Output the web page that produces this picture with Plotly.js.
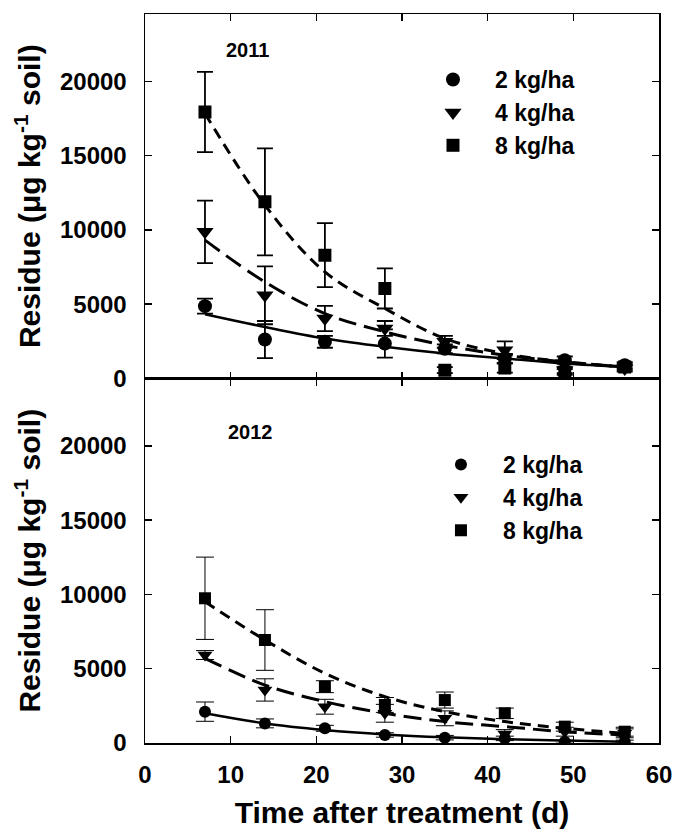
<!DOCTYPE html>
<html>
<head>
<meta charset="utf-8">
<script src="https://cdn.plot.ly/plotly-3.0.1.min.js"></script>
<style>html,body{margin:0;padding:0;background:#fff;}#chart{width:681px;height:832px;}</style>
</head>
<body>
<div id="chart"></div>
<script>
// Sampling days
const days = [7, 14, 21, 28, 35, 42, 49, 56];
const legendLabels = ["2 kg/ha", "4 kg/ha", "8 kg/ha"];

// 2011 observed means and standard errors
const y2011_2kg = [4870, 2620, 2470, 2350, 2000, 1350, 1230, 900];
const e2011_2kg = [500, 1250, 400, 950, 300, 300, 250, 200];
const y2011_4kg = [9870, 5600, 4040, 3370, 2470, 1900, 560, 670];
const e2011_4kg = [2100, 1950, 850, 500, 400, 600, 200, 200];
const y2011_8kg = [17940, 11890, 8300, 6060, 560, 700, 440, 780];
const e2011_8kg = [2700, 3600, 2150, 1350, 200, 300, 200, 200];

// 2011 fitted curves
const f2011_2kg = [4330, 3470, 2690, 2130, 1680, 1350, 1010, 780];
const f2011_4kg = [9310, 6500, 4370, 3140, 2240, 1570, 1120, 780];
const f2011_8kg = [17840, 11660, 7170, 4710, 2690, 1680, 1120, 780];

// 2012 observed means and standard errors
const y2012_2kg = [2110, 1320, 990, 540, 360, 310, 90, 90];
const e2012_2kg = [650, 300, 200, 150, 150, 150, 100, 100];
const y2012_4kg = [5920, 3570, 2440, 2000, 1660, 600, 760, 650];
const e2012_4kg = [300, 750, 500, 600, 500, 300, 300, 300];
const y2012_8kg = [9740, 6930, 3790, 2560, 2890, 2000, 1100, 760];
const e2012_8kg = [2770, 2040, 400, 500, 540, 350, 300, 300];

// 2012 fitted curves
const f2012_2kg = [2000, 1320, 880, 580, 380, 250, 160, 90];
const f2012_4kg = [5700, 3900, 2780, 2000, 1440, 1100, 760, 540];
const f2012_8kg = [9510, 6930, 4690, 3120, 2110, 1440, 990, 650];

const symbols = ["circle", "triangle-down", "square"];
const dashes = ["solid", "18px,8px", "11px,7px"];
const FONT = "Liberation Sans, Arial, sans-serif";

function obs(y, e, i, xa, ya, leg, msize, ethick, ewidth) {
  return {
    x: days, y: y, type: "scatter", mode: "markers", name: legendLabels[i],
    xaxis: xa, yaxis: ya, legend: leg,
    marker: {symbol: symbols[i], color: "black", size: msize[i]},
    error_y: {type: "data", array: e, visible: true, color: "black", thickness: ethick, width: ewidth}
  };
}
function fit(y, i, xa, ya, w) {
  return {
    x: days, y: y, type: "scatter", mode: "lines", showlegend: false,
    xaxis: xa, yaxis: ya, hoverinfo: "skip",
    line: {color: "black", width: w, dash: dashes[i], shape: "spline", smoothing: 1.0}
  };
}

const topSize = [14, 15, 13];
const botSize = [12, 13, 12];
const traces = [
  fit(f2011_2kg, 0, "x2", "y2", 2.5), fit(f2011_4kg, 1, "x2", "y2", 3), fit(f2011_8kg, 2, "x2", "y2", 3),
  obs(y2011_2kg, e2011_2kg, 0, "x2", "y2", "legend", topSize, 1.8, 8),
  obs(y2011_4kg, e2011_4kg, 1, "x2", "y2", "legend", topSize, 1.8, 8),
  obs(y2011_8kg, e2011_8kg, 2, "x2", "y2", "legend", topSize, 1.8, 8),
  fit(f2012_2kg, 0, "x", "y", 2.5), fit(f2012_4kg, 1, "x", "y", 3), fit(f2012_8kg, 2, "x", "y", 3),
  obs(y2012_2kg, e2012_2kg, 0, "x", "y", "legend2", botSize, 1, 9),
  obs(y2012_4kg, e2012_4kg, 1, "x", "y", "legend2", botSize, 1, 9),
  obs(y2012_8kg, e2012_8kg, 2, "x", "y", "legend2", botSize, 1, 9)
];

const tickFont = {family: FONT, size: 24, color: "black", weight: "bold"};
const baseAx = {
  showline: true, linecolor: "black", linewidth: 1.5, mirror: "ticks",
  ticks: "inside", ticklen: 7, tickwidth: 1.5, tickcolor: "black",
  showgrid: false, zeroline: false, tickfont: tickFont, tickformat: "d"
};
const yTitle = {
  text: "Residue (μg kg<sup>-1</sup> soil)",
  font: {family: FONT, size: 30, color: "black", weight: "bold"}, standoff: 10
};
const legFont = {family: FONT, size: 23, color: "black", weight: "bold"};

const layout = {
  width: 681, height: 832,
  margin: {l: 145, r: 22, t: 14, b: 89},
  paper_bgcolor: "white", plot_bgcolor: "white",
  showlegend: true,
  xaxis: Object.assign({}, baseAx, {
    domain: [0, 1], anchor: "y", range: [0, 60], dtick: 10, tick0: 0,
    ticklabelstandoff: 10,
    title: {text: "Time after treatment (d)", font: {family: FONT, size: 30, color: "black", weight: "bold"}, standoff: 14}
  }),
  yaxis: Object.assign({}, baseAx, {
    domain: [0, 0.5], anchor: "x", range: [0, 24530], dtick: 5000, tick0: 0,
    ticklabelstandoff: 12, title: yTitle
  }),
  xaxis2: Object.assign({}, baseAx, {
    domain: [0, 1], anchor: "y2", range: [0, 60], dtick: 10, tick0: 0, showticklabels: false
  }),
  yaxis2: Object.assign({}, baseAx, {
    domain: [0.5, 1], anchor: "x2", range: [0, 24530], dtick: 5000, tick0: 0,
    ticklabelstandoff: 12, title: yTitle
  }),
  legend: {
    x: 0.5175, y: 0.9396, xanchor: "left", yanchor: "top", bgcolor: "rgba(0,0,0,0)",
    font: legFont, itemwidth: 74, tracegroupgap: 0
  },
  legend2: {
    x: 0.533, y: 0.4115, xanchor: "left", yanchor: "top", bgcolor: "rgba(0,0,0,0)",
    font: legFont, itemwidth: 74, tracegroupgap: 0
  },
  annotations: [
    {text: "2011", xref: "x2", yref: "y2", x: 12, y: 22100, showarrow: false,
     font: {family: FONT, size: 20, color: "black", weight: "bold"}},
    {text: "2012", xref: "x", yref: "y", x: 12.3, y: 20900, showarrow: false,
     font: {family: FONT, size: 20, color: "black", weight: "bold"}}
  ]
};

Plotly.newPlot("chart", traces, layout, {staticPlot: true});
</script>
</body>
</html>
